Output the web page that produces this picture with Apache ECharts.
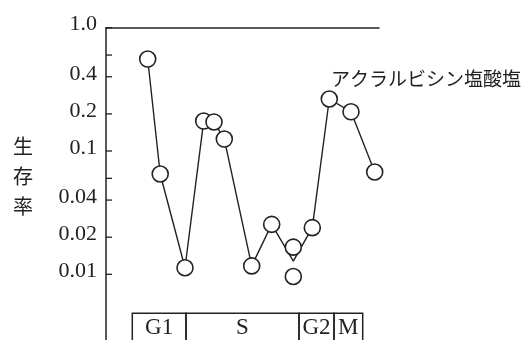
<!DOCTYPE html>
<html>
<head>
<meta charset="utf-8">
<script src="https://cdn.jsdelivr.net/npm/echarts@6/dist/echarts.min.js"></script>
<style>
html,body{margin:0;padding:0;background:#fff;}
#chart{width:526px;height:340px;}
</style>
</head>
<body>
<div id="chart"></div>
<script>
// Time positions (arbitrary time units across the cell cycle)
var times = [4.17, 5.42, 7.9, 9.77, 10.8, 11.83, 14.57, 16.57, 18.73, 18.73, 20.63, 22.33, 24.5, 26.87];
// Survival fraction of each measured point (circles)
var survival = [0.557, 0.0651, 0.0113, 0.175, 0.172, 0.125, 0.0117, 0.0254, 0.0166, 0.0096, 0.0239, 0.264, 0.208, 0.0676];
// Connecting line (passes through mean at duplicated time)
var lineTimes = [4.17, 5.42, 7.9, 9.77, 10.8, 11.83, 14.57, 16.57, 18.73, 20.63, 22.33, 24.5, 26.87];
var lineValues = [0.557, 0.0651, 0.0113, 0.175, 0.172, 0.125, 0.0117, 0.0254, 0.0128, 0.0239, 0.264, 0.208, 0.0676];
// Y axis ticks and labels
var tickValues = [1, 0.6, 0.4, 0.2, 0.1, 0.06, 0.04, 0.02, 0.01];
var labelValues = [1, 0.4, 0.2, 0.1, 0.04, 0.02, 0.01];
var labelTexts = ['1.0', '0.4', '0.2', '0.1', '0.04', '0.02', '0.01'];
// Cell-cycle phases
var phaseNames = ['G1', 'S', 'G2', 'M'];
var phaseBounds = [2.63, 8.0, 19.3, 22.8, 25.67];
var seriesName = 'アクラルビシン塩酸塩';
var yTitle = '生存率';

var ink = '#222';
var serif = '"Liberation Serif", "DejaVu Serif", serif';
var cjk = '"Noto Sans CJK JP", sans-serif';
var xMin = 0, xMax = 27.3;

var pts = times.map(function (t, i) { return [t, survival[i]]; });
var linePts = lineTimes.map(function (t, i) { return [t, lineValues[i]]; });
var areas = phaseNames.map(function (n, i) {
  return [{ name: n, xAxis: phaseBounds[i], yAxis: 0.00483 }, { xAxis: phaseBounds[i + 1], yAxis: 0.002 }];
});
var tickPts = tickValues.map(function (v) { return [xMin, v]; });

var chart = echarts.init(document.getElementById('chart'), null, { renderer: 'canvas' });
chart.setOption({
  animation: false,
  backgroundColor: '#fff',
  grid: { left: 106, width: 273, top: 27.7, height: 332.8, outerBoundsMode: 'none', containLabel: false },
  xAxis: {
    type: 'value', position: 'top', min: xMin, max: xMax,
    axisLine: { show: true, onZero: false, lineStyle: { color: ink, width: 1.5 } },
    axisTick: { show: false }, axisLabel: { show: false }, splitLine: { show: false }
  },
  yAxis: {
    type: 'log', min: 0.002, max: 1, logBase: 10,
    axisLine: { show: true, lineStyle: { color: ink, width: 1.5 } },
    axisTick: { show: false },
    axisLabel: {
      show: true, customValues: labelValues, margin: 9,
      fontFamily: serif, fontSize: 22, color: ink, verticalAlign: 'bottom', lineHeight: 6,
      formatter: function (v) {
        for (var i = 0; i < labelValues.length; i++) {
          if (Math.abs(labelValues[i] - v) < 1e-9) return labelTexts[i];
        }
        return '';
      }
    },
    splitLine: { show: false }
  },
  series: [
    {
      type: 'line', data: linePts, showSymbol: false, symbol: 'none', z: 2,
      lineStyle: { color: ink, width: 1.4 },
      markArea: {
        silent: true,
        itemStyle: { color: 'rgba(0,0,0,0)', borderColor: ink, borderWidth: 1.5 },
        label: { show: true, position: 'insideTop', distance: 4, fontFamily: serif, fontSize: 23, color: ink },
        data: areas
      }
    },
    {
      type: 'custom', data: tickPts, silent: true, clip: false, z: 4,
      renderItem: function (params, api) {
        var p = api.coord([api.value(0), api.value(1)]);
        return { type: 'line', shape: { x1: p[0], y1: p[1], x2: p[0] + 6, y2: p[1] }, style: { stroke: ink, lineWidth: 1.3 } };
      }
    },
    {
      type: 'scatter', name: seriesName, data: pts, symbol: 'circle', symbolSize: 16, z: 3,
      itemStyle: { color: '#fff', borderColor: ink, borderWidth: 1.6, opacity: 1 }
    }
  ],
  graphic: [
    { type: 'text', x: 331, y: 78.5, style: { text: seriesName, font: '19px ' + cjk, fill: ink, align: 'left', verticalAlign: 'middle' } },
    { type: 'text', x: 23, y: 176, style: { text: yTitle.split('').join('\n'), font: '20px ' + cjk, lineHeight: 30, fill: ink, align: 'center', verticalAlign: 'middle' } }
  ]
});
</script>
</body>
</html>
